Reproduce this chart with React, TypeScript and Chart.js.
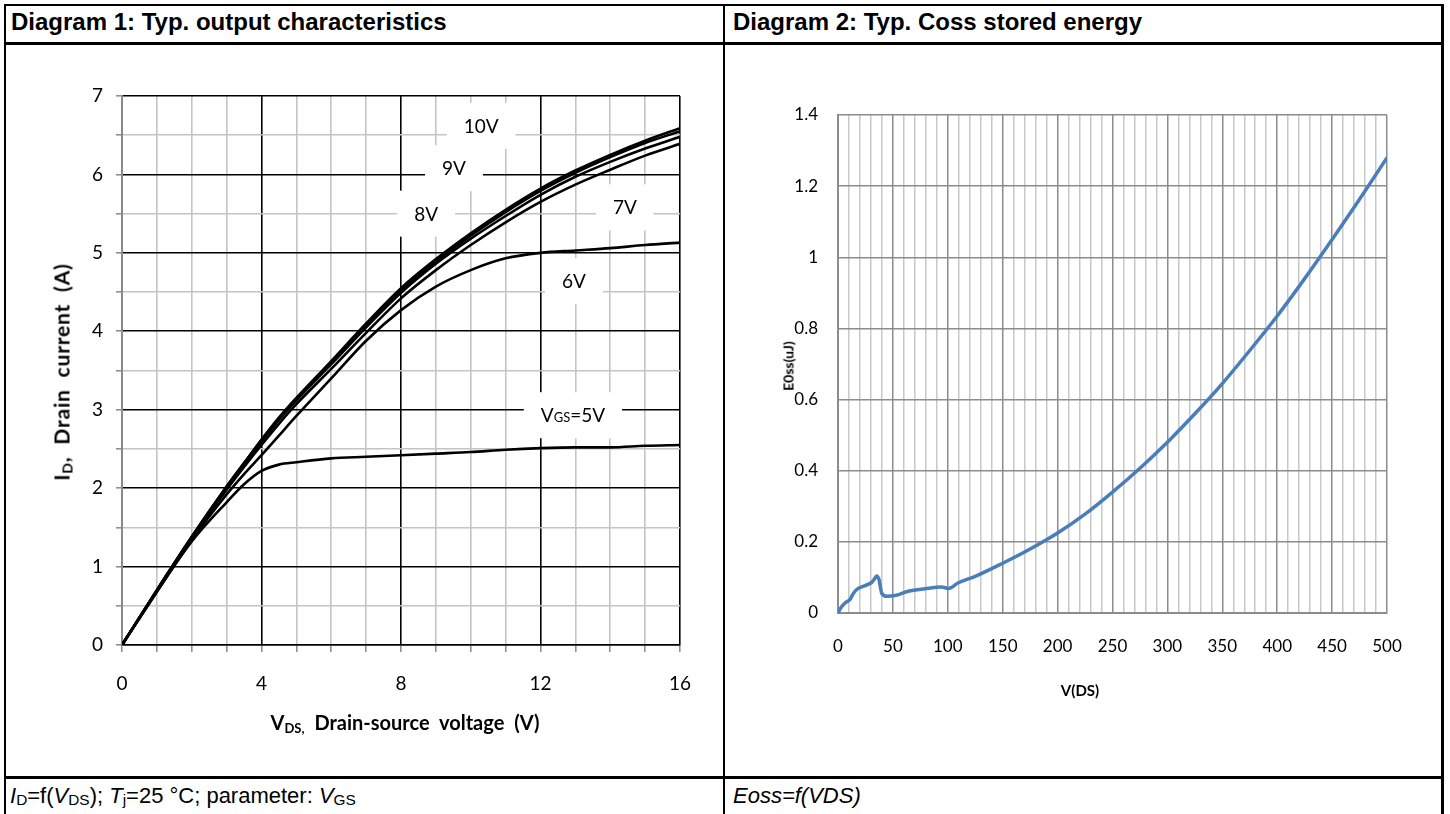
import React, { useEffect, useRef } from "react";
import { Chart, registerables } from "chart.js";
Chart.register(...registerables);

// ---------- Diagram 1 data ----------
const VDS = [0, 1, 2, 3, 3.5, 4, 4.5, 5, 6, 7, 8, 9, 10, 11, 12, 13, 14, 15, 16];
const ID_10V = [0, 0.7, 1.38, 2.02, 2.32, 2.62, 2.9, 3.15, 3.62, 4.1, 4.55, 4.92, 5.25, 5.55, 5.82, 6.05, 6.25, 6.43, 6.59];
const ID_9V = [0, 0.7, 1.38, 2.02, 2.32, 2.61, 2.89, 3.14, 3.6, 4.08, 4.52, 4.89, 5.22, 5.52, 5.79, 6.02, 6.22, 6.4, 6.55];
const ID_8V = [0, 0.7, 1.37, 2.0, 2.3, 2.59, 2.87, 3.12, 3.58, 4.05, 4.49, 4.86, 5.18, 5.47, 5.74, 5.97, 6.16, 6.33, 6.48];
const ID_7V = [0, 0.69, 1.36, 1.98, 2.27, 2.55, 2.82, 3.07, 3.52, 3.98, 4.42, 4.78, 5.1, 5.39, 5.65, 5.87, 6.06, 6.24, 6.39];
const ID_6V = [0, 0.68, 1.34, 1.92, 2.18, 2.42, 2.67, 2.92, 3.4, 3.88, 4.27, 4.57, 4.78, 4.93, 5.0, 5.03, 5.06, 5.1, 5.13];
const ID_5V = [0, 0.68, 1.32, 1.82, 2.05, 2.22, 2.3, 2.33, 2.38, 2.4, 2.42, 2.44, 2.46, 2.49, 2.51, 2.52, 2.52, 2.54, 2.55];
const SERIES_1 = [ID_10V, ID_9V, ID_8V, ID_7V, ID_6V, ID_5V];
const SERIES_1_NAMES = ["10V", "9V", "8V", "7V", "6V", "5V"];

const CURVE_LABELS = ["10V", "9V", "8V", "7V", "6V", "V_{GS}=5V"];
const CURVE_LABEL_V = [10.3, 9.52, 8.72, 14.42, 12.96, 12.93];
const CURVE_LABEL_I = [6.62, 6.08, 5.5, 5.58, 4.64, 2.93];

const X1_MIN = 0, X1_MAX = 16, X1_STEP = 1, X1_MAJOR = 4;
const Y1_MIN = 0, Y1_MAX = 7, Y1_STEP = 0.5;

// ---------- Diagram 2 data ----------
const VDS2 = [0, 2, 6.4, 10.9, 13, 17, 24.6, 30.7, 33, 35.2, 37.3, 39.8, 44.3, 51.9, 64, 79, 94.4, 100.5, 109.6, 125, 150, 175, 200, 225, 250, 275, 300, 325, 350, 375, 400, 425, 450, 475, 500];
const EOSS = [0, 0.012, 0.028, 0.038, 0.05, 0.066, 0.077, 0.086, 0.095, 0.104, 0.094, 0.056, 0.047, 0.049, 0.061, 0.068, 0.073, 0.069, 0.085, 0.103, 0.14, 0.18, 0.225, 0.278, 0.34, 0.407, 0.48, 0.56, 0.645, 0.738, 0.835, 0.94, 1.05, 1.163, 1.28];
const X2_MIN = 0, X2_MAX = 500, X2_STEP = 10, X2_MAJOR = 50;
const Y2_MIN = 0, Y2_MAX = 1.4, Y2_STEP = 0.2;

const TICK_FONT = "Lato, 'Open Sans', sans-serif";

const labelPlugin = {
  id: "curveLabels",
  beforeDatasetsDraw(chart: any) {
    const { ctx, chartArea, scales } = chart;
    ctx.save();
    ctx.beginPath();
    ctx.rect(chartArea.left, chartArea.top, chartArea.right - chartArea.left, chartArea.bottom - chartArea.top);
    ctx.clip();
    CURVE_LABELS.forEach((lab, i) => {
      const parts: { t: string; small: boolean }[] = [];
      const re = /_\{([^}]*)\}/g;
      let last = 0;
      let m: any;
      while ((m = re.exec(lab))) {
        if (m.index > last) parts.push({ t: lab.slice(last, m.index), small: false });
        parts.push({ t: m[1], small: true });
        last = m.index + m[0].length;
      }
      if (last < lab.length) parts.push({ t: lab.slice(last), small: false });
      const big = "19px " + TICK_FONT;
      const sml = "13px " + TICK_FONT;
      let w = 0;
      parts.forEach((p) => {
        ctx.font = p.small ? sml : big;
        w += ctx.measureText(p.t).width;
      });
      const cx = scales.x.getPixelForValue(CURVE_LABEL_V[i]);
      const cy = scales.y.getPixelForValue(CURVE_LABEL_I[i]);
      ctx.fillStyle = "#ffffff";
      ctx.fillRect(cx - w / 2 - 17, cy - 23, w + 34, 46);
      ctx.fillStyle = "#000000";
      ctx.textBaseline = "alphabetic";
      ctx.textAlign = "left";
      let x = cx - w / 2;
      parts.forEach((p) => {
        ctx.font = p.small ? sml : big;
        ctx.fillText(p.t, x, cy + 7);
        x += ctx.measureText(p.t).width;
      });
    });
    ctx.restore();
  },
};

function Diagram1() {
  const ref = useRef<HTMLCanvasElement>(null);
  useEffect(() => {
    const chart = new Chart(ref.current!, {
      type: "line",
      data: {
        datasets: SERIES_1.map((s, i) => ({
          label: SERIES_1_NAMES[i],
          data: VDS.map((v, j) => ({ x: v, y: s[j] })),
          borderColor: "#000000",
          borderWidth: 2.6,
          pointRadius: 0,
          fill: false,
          cubicInterpolationMode: "monotone" as const,
        })),
      },
      options: {
        responsive: false,
        animation: false,
        layout: { padding: { top: 51, right: 42, left: 0, bottom: 0 } },
        plugins: { legend: { display: false }, tooltip: { enabled: false } },
        scales: {
          x: {
            type: "linear",
            min: X1_MIN,
            max: X1_MAX,
            afterFit: (s: any) => { s.height = 130; },
            ticks: {
              stepSize: X1_STEP,
              autoSkip: false,
              maxRotation: 0,
              padding: 20,
              color: "#000",
              font: { family: TICK_FONT, size: 19 },
              callback: (v: any) => (Number(v) % X1_MAJOR === 0 ? String(v) : ""),
            },
            grid: {
              color: (c: any) => (c.tick && c.tick.value % X1_MAJOR === 0 ? "#000000" : "#c4c4c4"),
              lineWidth: 1.6,
              tickLength: 7,
              tickColor: "#909090",
            },
            border: { color: "#000000", width: 1.6 },
          },
          y: {
            type: "linear",
            min: Y1_MIN,
            max: Y1_MAX,
            afterFit: (s: any) => { s.width = 116; },
            ticks: {
              stepSize: Y1_STEP,
              autoSkip: false,
              padding: 13,
              color: "#000",
              font: { family: TICK_FONT, size: 19 },
              callback: (v: any) => (Number(v) % 1 === 0 ? String(v) : ""),
            },
            grid: {
              color: (c: any) => (c.tick && c.tick.value % 1 === 0 ? "#000000" : "#c4c4c4"),
              lineWidth: 1.6,
              tickLength: 6,
              tickColor: "#909090",
            },
            border: { color: "#8a8a8a", width: 2 },
          },
        },
      },
      plugins: [labelPlugin],
    } as any);
    return () => chart.destroy();
  }, []);
  return <canvas ref={ref} width={716} height={730} style={{ position: "absolute", left: 6, top: 45 }} />;
}

function Diagram2() {
  const ref = useRef<HTMLCanvasElement>(null);
  useEffect(() => {
    const chart = new Chart(ref.current!, {
      type: "line",
      data: {
        datasets: [
          {
            label: "Eoss",
            data: VDS2.map((v, j) => ({ x: v, y: EOSS[j] })),
            borderColor: "#4a7ebb",
            borderWidth: 3.5,
            pointRadius: 0,
            fill: false,
            cubicInterpolationMode: "monotone" as const,
          },
        ],
      },
      options: {
        responsive: false,
        animation: false,
        layout: { padding: { top: 70, right: 54, left: 0, bottom: 0 } },
        plugins: { legend: { display: false }, tooltip: { enabled: false } },
        scales: {
          x: {
            type: "linear",
            min: X2_MIN,
            max: X2_MAX,
            afterFit: (s: any) => { s.height = 162; },
            ticks: {
              stepSize: X2_STEP,
              autoSkip: false,
              maxRotation: 0,
              padding: 23,
              color: "#000",
              font: { family: TICK_FONT, size: 17 },
              callback: (v: any) => (Number(v) % X2_MAJOR === 0 ? String(v) : ""),
            },
            grid: {
              color: (c: any) => (c.tick && c.tick.value % X2_MAJOR === 0 ? "#8c8c8c" : "#c8c8c8"),
              lineWidth: 1.5,
              drawTicks: false,
            },
            border: { color: "#8c8c8c", width: 2 },
          },
          y: {
            type: "linear",
            min: Y2_MIN,
            max: Y2_MAX,
            afterFit: (s: any) => { s.width = 112; },
            ticks: {
              stepSize: Y2_STEP,
              autoSkip: false,
              padding: 20,
              color: "#000",
              font: { family: TICK_FONT, size: 17 },
              callback: (v: any) => String(Math.round(Number(v) * 10) / 10),
            },
            grid: { color: "#8c8c8c", lineWidth: 1.5, drawTicks: false },
            border: { color: "#8c8c8c", width: 2 },
          },
        },
      },
    } as any);
    return () => chart.destroy();
  }, []);
  return <canvas ref={ref} width={715} height={730} style={{ position: "absolute", left: 726, top: 45 }} />;
}

const line = (l: number, t: number, w: number, h: number) => (
  <div style={{ position: "absolute", left: l, top: t, width: w, height: h, background: "#000" }} />
);

export default function App() {
  const hdr: React.CSSProperties = {
    position: "absolute",
    top: 8,
    fontFamily: "'Liberation Sans', Arial, sans-serif",
    fontWeight: "bold",
    fontSize: 24,
    whiteSpace: "nowrap",
    lineHeight: "28px",
  };
  const ftr: React.CSSProperties = {
    position: "absolute",
    top: 783,
    fontFamily: "'Liberation Sans', Arial, sans-serif",
    fontSize: 22,
    whiteSpace: "nowrap",
    lineHeight: "26px",
  };
  const sub: React.CSSProperties = { fontSize: "0.7em", verticalAlign: "-0.15em" };
  const axt: React.CSSProperties = {
    position: "absolute",
    fontFamily: "Lato, 'Open Sans', sans-serif",
    fontWeight: "bold",
    whiteSpace: "nowrap",
    transform: "translate(-50%, -50%)",
  };
  return (
    <div style={{ position: "fixed", left: 0, top: 0, width: 1450, height: 814, background: "#fff", overflow: "hidden" }}>
      <Diagram1 />
      <Diagram2 />
      {line(4, 4, 1440, 2)}
      {line(4, 4, 2, 820)}
      {line(723, 4, 2, 820)}
      {line(1441, 4, 3, 820)}
      {line(4, 42, 1440, 3)}
      {line(4, 776, 1440, 3)}
      <div style={{ ...hdr, left: 11 }}>Diagram 1: Typ. output characteristics</div>
      <div style={{ ...hdr, left: 733 }}>Diagram 2: Typ. Coss stored energy</div>
      <div style={{ ...ftr, left: 10 }}>
        <i>I</i><span style={sub}>D</span>=f(<i>V</i><span style={sub}>DS</span>); <i>T</i><span style={sub}>j</span>=25 °C; parameter: <i>V</i><span style={sub}>GS</span>
      </div>
      <div style={{ ...ftr, left: 733, fontStyle: "italic" }}>Eoss=f(VDS)</div>
      <div style={{ ...axt, left: 405, top: 723, fontSize: 20, wordSpacing: 5 }}>
        V<span style={{ fontSize: 13, verticalAlign: "-3px" }}>DS,</span> Drain-source voltage (V)
      </div>
      <div style={{ ...axt, left: 62, top: 372, fontSize: 21, letterSpacing: 0.8, wordSpacing: 6, transform: "translate(-50%, -50%) rotate(-90deg)" }}>
        I<span style={{ fontSize: 14, verticalAlign: "-3px" }}>D</span>, Drain current (A)
      </div>
      <div style={{ ...axt, left: 1080, top: 690, fontSize: 15 }}>V(DS)</div>
      <div style={{ ...axt, left: 788, top: 366, fontSize: 14, transform: "translate(-50%, -50%) rotate(-90deg)" }}>E0ss(uJ)</div>
    </div>
  );
}
